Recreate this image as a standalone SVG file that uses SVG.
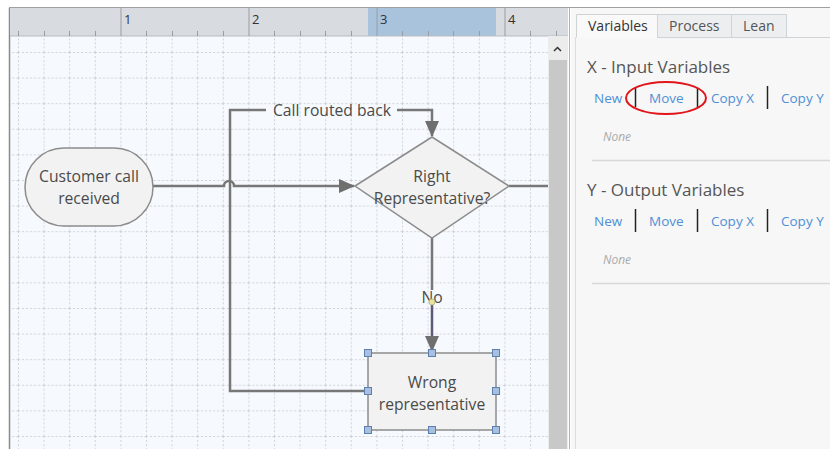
<svg xmlns="http://www.w3.org/2000/svg" width="830" height="449" viewBox="0 0 830 449">
<defs>
<pattern id="grid" x="18" y="52" width="25.6" height="25.6" patternUnits="userSpaceOnUse">
<path d="M0.5 0 V25.6 M0 0.5 H25.6" stroke="#cfd2d6" stroke-width="1" stroke-dasharray="2 2" fill="none"/>
</pattern>
<marker id="arrB" markerWidth="16" markerHeight="16" refX="15" refY="8" orient="auto" markerUnits="userSpaceOnUse" viewBox="0 0 16 16">
<path d="M0 1 L16 8 L0 15 Z" fill="#6f6f6f"/>
</marker>
</defs>
<style>
.t{font-family:"Open Sans","Noto Sans",sans-serif;fill:#4a4a4a;font-size:15.7px;}
.node{fill:#f2f2f2;stroke:#8c8c8c;stroke-width:1.5;}
.con{fill:none;stroke:#777;stroke-width:2.5;}
.lnk{font-family:"Open Sans","Noto Sans",sans-serif;font-size:13.5px;fill:#4f8fd6;}
.hd{font-family:"Open Sans","Noto Sans",sans-serif;font-size:17px;fill:#555;}
.none{font-family:"Open Sans","Noto Sans",sans-serif;font-size:12px;font-style:italic;fill:#aaa;}
.sep{stroke:#222;stroke-width:1.5;}
.h{fill:#a8c0e0;stroke:#5a7fb0;stroke-width:1;}
.tick{stroke:#9a9ea4;stroke-width:1;}
</style>
<rect width="830" height="449" fill="#ffffff"/>
<!-- canvas -->
<rect x="10" y="36" width="538" height="413" fill="#f6f9fd"/>
<rect x="10" y="36" width="538" height="413" fill="url(#grid)"/>
<line x1="9.5" y1="8" x2="9.5" y2="449" stroke="#8a8a8a" stroke-width="1.5"/>
<!-- ruler -->
<rect x="10" y="8" width="558" height="28" fill="#d8dbdf"/>
<line x1="9" y1="7.5" x2="830" y2="7.5" stroke="#a0a0a0" stroke-width="1"/>
<rect x="368" y="8" width="128" height="28" fill="#a9c3dc"/>
<line x1="10" y1="36" x2="568" y2="36" stroke="#b8bcc1"/>
<g class="tick">
<path d="M18.5 31V36M44.5 31V36M69.5 31V36M95.5 31V36M146.5 31V36M172.5 31V36M197.5 31V36M223.5 31V36M274.5 31V36M300.5 31V36M325.5 31V36M351.5 31V36M402.5 31V36M428.5 31V36M453.5 31V36M479.5 31V36M530.5 31V36M556.5 31V36"/>
<path d="M121 8V36M249 8V36M377 8V36M505 8V36"/>
</g>
<g font-family="Open Sans, Noto Sans, sans-serif" font-size="13" fill="#333">
<text x="124" y="24">1</text>
<text x="252" y="24">2</text>
<text x="380" y="24">3</text>
<text x="508" y="24">4</text>
</g>
<!-- scrollbar -->
<rect x="548" y="36" width="20" height="413" fill="#ececec"/>
<rect x="549" y="60" width="18" height="389" fill="#c8c8c8"/>
<path d="M554 51 L557.5 47.5 L561 51" fill="none" stroke="#333" stroke-width="1.5"/>
<line x1="569.5" y1="8" x2="569.5" y2="449" stroke="#b0b0b0"/>
<!-- panel -->
<rect x="571" y="8" width="259" height="441" fill="#f7f7f7"/>
<line x1="575.5" y1="37" x2="575.5" y2="449" stroke="#dcdcdc"/>
<g font-family="Open Sans, Noto Sans, sans-serif" font-size="14">
<rect x="657.5" y="14.5" width="74" height="23" fill="#eceef0" stroke="#cfd3d6"/>
<rect x="731.5" y="14.5" width="55" height="23" fill="#eceef0" stroke="#cfd3d6"/>
<path d="M576.5 37.5 V14.5 H657.5 V37.5" fill="#f9f9f9" stroke="#cfd3d6"/>
<line x1="731" y1="37.5" x2="830" y2="37.5" stroke="#cfd3d6"/>
<text x="588" y="31" fill="#333">Variables</text>
<text x="669" y="31" fill="#555">Process</text>
<text x="743" y="31" fill="#555">Lean</text>
</g>
<text class="hd" x="587" y="73">X - Input Variables</text>
<text class="lnk" x="594" y="103">New</text>
<line class="sep" x1="635.5" y1="88" x2="635.5" y2="107"/>
<text class="lnk" x="649" y="103">Move</text>
<line class="sep" x1="697.5" y1="88" x2="697.5" y2="107"/>
<text class="lnk" x="711" y="103">Copy X</text>
<line class="sep" x1="767.5" y1="86" x2="767.5" y2="109"/>
<text class="lnk" x="781" y="103">Copy Y</text>
<ellipse cx="666" cy="98" rx="40" ry="16" fill="none" stroke="#e0161b" stroke-width="2"/>
<text class="none" x="603" y="141">None</text>
<line x1="592" y1="160.5" x2="830" y2="160.5" stroke="#d8d8d8" stroke-width="1.5"/>
<text class="hd" x="587" y="196">Y - Output Variables</text>
<text class="lnk" x="594" y="226">New</text>
<line class="sep" x1="635.5" y1="209" x2="635.5" y2="232"/>
<text class="lnk" x="649" y="226">Move</text>
<line class="sep" x1="697.5" y1="209" x2="697.5" y2="232"/>
<text class="lnk" x="711" y="226">Copy X</text>
<line class="sep" x1="767.5" y1="209" x2="767.5" y2="232"/>
<text class="lnk" x="781" y="226">Copy Y</text>
<text class="none" x="603" y="264">None</text>
<line x1="592" y1="283.5" x2="830" y2="283.5" stroke="#d8d8d8" stroke-width="1.5"/>
<!-- connectors -->
<g id="connectors">
<path class="con" d="M153 186 H224 A5 5 0 0 1 234 186 H354" marker-end="url(#arrB)"/>
<path class="con" d="M509 186 H548"/>
<path class="con" d="M432 238 V290"/>
<path d="M432 305 V351" fill="none" stroke="#5c5a78" stroke-width="2.5" marker-end="url(#arrB)"/>
<path class="con" d="M367 391 H230 V110 H266"/>
<path class="con" d="M397 110 H432 V136" marker-end="url(#arrB)"/>
<text class="t" x="332" y="116" text-anchor="middle">Call routed back</text>
<text class="t" x="432" y="303" text-anchor="middle">No</text>
<circle cx="432" cy="302" r="3" fill="#e8e4a0" stroke="#b5b070" stroke-width="0.8"/>
</g>
<!-- nodes -->
<g id="start">
<rect class="node" x="25" y="148" width="128" height="78" rx="39"/>
<text class="t" x="89" y="182" text-anchor="middle">Customer call</text>
<text class="t" x="89" y="204" text-anchor="middle">received</text>
</g>
<g id="decision">
<path class="node" d="M355 186 L432 137 L509 186 L432 238 Z"/>
<text class="t" x="432" y="182" text-anchor="middle">Right</text>
<text class="t" x="432" y="204" text-anchor="middle">Representative?</text>
</g>
<g id="wrong">
<rect class="node" x="368" y="353" width="128" height="77"/>
<text class="t" x="432" y="388" text-anchor="middle">Wrong</text>
<text class="t" x="432" y="410" text-anchor="middle">representative</text>
<rect class="h" x="364.5" y="349.5" width="7" height="7"/>
<rect class="h" x="428.5" y="349.5" width="7" height="7"/>
<rect class="h" x="492.5" y="349.5" width="7" height="7"/>
<rect class="h" x="364.5" y="387.5" width="7" height="7"/>
<rect class="h" x="492.5" y="387.5" width="7" height="7"/>
<rect class="h" x="364.5" y="426.5" width="7" height="7"/>
<rect class="h" x="428.5" y="426.5" width="7" height="7"/>
<rect class="h" x="492.5" y="426.5" width="7" height="7"/>
</g>
</svg>
